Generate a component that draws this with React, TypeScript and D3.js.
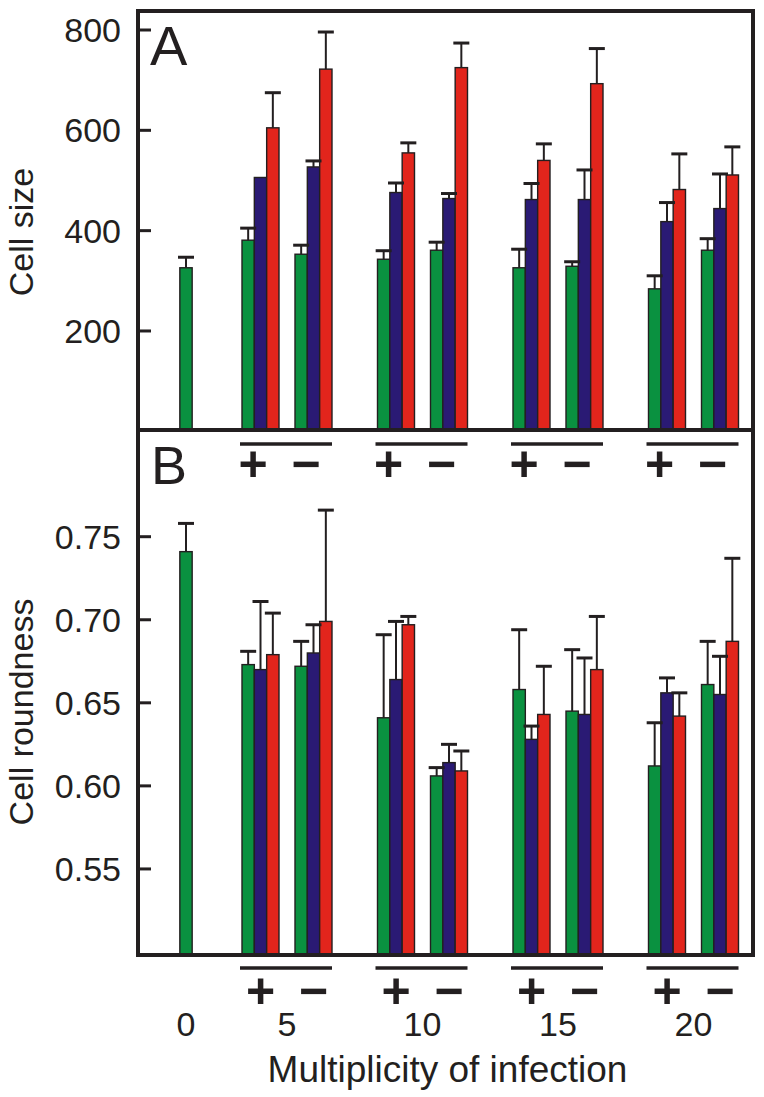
import React from "react";
import * as d3 from "d3";

// ---------- data ----------
const moiGroups = ["5", "10", "15", "20"];
const treatments = ["+", "−"];
const seriesKeys = ["green", "blue", "red"];
const seriesColors = ["#0a9140", "#2a1a74", "#e2251c"];

// subgroup order: 5+, 5−, 10+, 10−, 15+, 15−, 20+, 20−
const controlLabel = "0";
const sizeControlMean = 326;
const sizeControlErr = 21;
const sizeGreen = [381, 353, 343, 361, 326, 329, 284, 361];
const sizeGreenErr = [24, 18, 17, 16, 37, 9, 26, 23];
const sizeBlue = [506, 527, 476, 464, 462, 462, 418, 444];
const sizeBlueErr = [0, 12, 19, 10, 32, 59, 38, 69];
const sizeRed = [605, 722, 555, 725, 540, 693, 482, 511];
const sizeRedErr = [70, 74, 20, 49, 33, 70, 71, 56];

const roundControlMean = 0.741;
const roundControlErr = 0.017;
const roundGreen = [0.673, 0.672, 0.641, 0.606, 0.658, 0.645, 0.612, 0.661];
const roundGreenErr = [0.008, 0.015, 0.05, 0.005, 0.036, 0.037, 0.026, 0.026];
const roundBlue = [0.67, 0.68, 0.664, 0.614, 0.628, 0.643, 0.656, 0.655];
const roundBlueErr = [0.041, 0.017, 0.035, 0.011, 0.008, 0.034, 0.009, 0.023];
const roundRed = [0.679, 0.699, 0.697, 0.609, 0.643, 0.67, 0.642, 0.687];
const roundRedErr = [0.025, 0.067, 0.005, 0.012, 0.029, 0.032, 0.014, 0.05];

const sizeTicks = [200, 400, 600, 800];
const roundTicks = [0.55, 0.6, 0.65, 0.7, 0.75];
const roundTickLabels = ["0.55", "0.60", "0.65", "0.70", "0.75"];

// ---------- layout ----------
const W = 764;
const H = 1097;
const left = 138;
const right = 753;
const top = 11;
const mid = 430;
const bottom = 955;
const controlOffset = 101;
const ink = "#231f20";
const font = "'Liberation Sans', Arial, sans-serif";

const xGroup = d3
  .scaleBand<string>()
  .domain(moiGroups)
  .range([219.25, 761.25])
  .padding(0);
const xTreat = d3.scalePoint<string>().domain(treatments).range([-26.5, 26.5]);
const xSeries = d3.scaleBand<string>().domain(seriesKeys).range([-18.5, 18.5]);
const bw = xSeries.bandwidth();

const groupCenter = (g: string) => (xGroup(g) as number) + xGroup.bandwidth() / 2;
const controlX = groupCenter(moiGroups[0]) - controlOffset;

const ySize = d3.scaleLinear().domain([0, 800]).range([431.3, 30]);
const yRound = d3.scaleLinear().domain([0.5, 0.75]).range([952, 536.7]);

type Bar = { x: number; mean: number; err: number; color: string };

function buildBars(
  cMean: number,
  cErr: number,
  means: number[][],
  errs: number[][]
): Bar[] {
  const bars: Bar[] = [{ x: controlX, mean: cMean, err: cErr, color: seriesColors[0] }];
  moiGroups.forEach((g, gi) => {
    treatments.forEach((t, ti) => {
      const idx = gi * 2 + ti;
      seriesKeys.forEach((s, si) => {
        bars.push({
          x: groupCenter(g) + (xTreat(t) as number) + (xSeries(s) as number) + bw / 2,
          mean: means[si][idx],
          err: errs[si][idx],
          color: seriesColors[si],
        });
      });
    });
  });
  return bars;
}

const sizeBars = buildBars(
  sizeControlMean,
  sizeControlErr,
  [sizeGreen, sizeBlue, sizeRed],
  [sizeGreenErr, sizeBlueErr, sizeRedErr]
);
const roundBars = buildBars(
  roundControlMean,
  roundControlErr,
  [roundGreen, roundBlue, roundRed],
  [roundGreenErr, roundBlueErr, roundRedErr]
);

function Panel({
  bars,
  y,
  base,
}: {
  bars: Bar[];
  y: d3.ScaleLinear<number, number>;
  base: number;
}) {
  return (
    <g>
      {bars.map((b, i) => (
        <rect
          key={"r" + i}
          x={b.x - bw / 2}
          y={y(b.mean)}
          width={bw}
          height={base - y(b.mean)}
          fill={b.color}
          stroke={ink}
          strokeWidth={1.4}
        />
      ))}
      {bars
        .filter((b) => b.err > 0)
        .map((b, i) => (
          <g key={"e" + i}>
            <line
              x1={b.x}
              x2={b.x}
              y1={y(b.mean)}
              y2={y(b.mean + b.err)}
              stroke={ink}
              strokeWidth={2}
            />
            <line
              x1={b.x - 8}
              x2={b.x + 8}
              y1={y(b.mean + b.err)}
              y2={y(b.mean + b.err)}
              stroke={ink}
              strokeWidth={3}
            />
          </g>
        ))}
    </g>
  );
}

function TreatmentLabels({
  lineY,
  signY,
  shift,
}: {
  lineY: number;
  signY: number;
  shift: number;
}) {
  return (
    <g>
      {moiGroups.map((g) => {
        const c = groupCenter(g);
        const x0 = c + (xTreat("+") as number) - 18.5 - 2;
        const x1 = c + (xTreat("−") as number) + 18.5;
        return (
          <g key={g}>
            <line x1={x0} x2={x1} y1={lineY} y2={lineY} stroke={ink} strokeWidth={3.5} />
            {treatments.map((t) => (
              <text
                key={t}
                x={c + (xTreat(t) as number) + shift}
                y={signY}
                textAnchor="middle"
                fontFamily={font}
                fontWeight="bold"
                fontSize={50}
                fill={ink}
              >
                {t}
              </text>
            ))}
          </g>
        );
      })}
    </g>
  );
}

export default function App() {
  return (
    <svg
      width={W}
      height={H}
      viewBox={`0 0 ${W} ${H}`}
      style={{ position: "absolute", left: 0, top: 0, background: "#fff" }}
    >
      <rect x={0} y={0} width={W} height={H} fill="#fff" />
      <Panel bars={sizeBars} y={ySize} base={mid} />
      <Panel bars={roundBars} y={yRound} base={bottom} />

      {/* frame */}
      <rect
        x={left}
        y={top}
        width={right - left}
        height={bottom - top}
        fill="none"
        stroke={ink}
        strokeWidth={4}
      />
      <line x1={left} x2={right} y1={mid} y2={mid} stroke={ink} strokeWidth={4} />

      {/* y ticks A */}
      {sizeTicks.map((t) => (
        <g key={"ta" + t}>
          <line x1={left} x2={left + 13} y1={ySize(t)} y2={ySize(t)} stroke={ink} strokeWidth={3} />
          <text
            x={121}
            y={ySize(t) + 12}
            textAnchor="end"
            fontFamily={font}
            fontSize={34}
            fill={ink}
          >
            {t}
          </text>
        </g>
      ))}
      {/* y ticks B */}
      {roundTicks.map((t, i) => (
        <g key={"tb" + t}>
          <line x1={left} x2={left + 13} y1={yRound(t)} y2={yRound(t)} stroke={ink} strokeWidth={3} />
          <text
            x={121}
            y={yRound(t) + 12}
            textAnchor="end"
            fontFamily={font}
            fontSize={34}
            fill={ink}
          >
            {roundTickLabels[i]}
          </text>
        </g>
      ))}

      {/* axis titles */}
      <text
        transform={`translate(33,232) rotate(-90)`}
        textAnchor="middle"
        fontFamily={font}
        fontSize={34}
        fill={ink}
      >
        Cell size
      </text>
      <text
        transform={`translate(33,712) rotate(-90)`}
        textAnchor="middle"
        fontFamily={font}
        fontSize={34}
        fill={ink}
      >
        Cell roundness
      </text>

      {/* panel letters */}
      <text x={150} y={65} fontFamily={font} fontSize={56} fill={ink}>
        A
      </text>
      <text x={151} y={484} fontFamily={font} fontSize={54} fill={ink}>
        B
      </text>

      <TreatmentLabels lineY={444} signY={481} shift={-7.5} />
      <TreatmentLabels lineY={968} signY={1008} shift={0} />

      {/* MOI labels */}
      <text x={controlX} y={1036} textAnchor="middle" fontFamily={font} fontSize={34} fill={ink}>
        {controlLabel}
      </text>
      {moiGroups.map((g) => (
        <text
          key={"m" + g}
          x={groupCenter(g)}
          y={1036}
          textAnchor="middle"
          fontFamily={font}
          fontSize={34}
          fill={ink}
        >
          {g}
        </text>
      ))}
      <text
        x={(left + right) / 2 + 2}
        y={1082}
        textAnchor="middle"
        fontFamily={font}
        fontSize={37}
        fill={ink}
      >
        Multiplicity of infection
      </text>
    </svg>
  );
}
